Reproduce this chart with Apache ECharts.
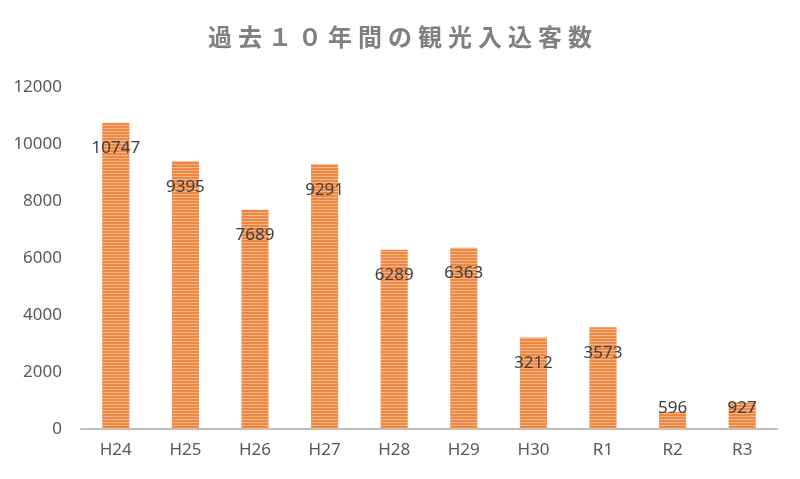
<!DOCTYPE html>
<html><head><meta charset="utf-8">
<script src="https://cdn.jsdelivr.net/npm/echarts@6/dist/echarts.min.js"></script>
<style>html,body{margin:0;padding:0;background:#fff}#c{width:800px;height:479px}</style>
</head><body><div id="c"></div>
<script>
var categories = ['H24','H25','H26','H27','H28','H29','H30','R1','R2','R3'];
var visitors = [10747, 9395, 7689, 9291, 6289, 6363, 3212, 3573, 596, 927];
var yTicks = [0, 2000, 4000, 6000, 8000, 10000, 12000];
var titleChars = ['過','去','１','０','年','間','の','観','光','入','込','客','数'];

var pc = document.createElement('canvas');
pc.width = 4; pc.height = 3;
var ctx = pc.getContext('2d');
ctx.fillStyle = '#EE8644'; ctx.fillRect(0,0,4,2);
ctx.fillStyle = '#F6B788'; ctx.fillRect(0,2,4,1);

var chart = echarts.init(document.getElementById('c'));
chart.setOption({
  animation: false,
  title: {
    text: titleChars.join('\u2005'), left: 'center', top: 20,
    textStyle: {fontFamily: 'Noto Sans CJK JP', fontSize: 24, fontWeight: 'bold', color: '#808080'}
  },
  grid: {left: 81, right: 23, top: 87, bottom: 50},
  xAxis: {
    type: 'category', data: categories,
    axisLine: {lineStyle: {color: '#BFBFBF', width: 2}},
    axisTick: {show: false},
    axisLabel: {fontFamily: 'Noto Sans', fontSize: 17, color: '#595959', margin: 13}
  },
  yAxis: {
    type: 'value', min: yTicks[0], max: yTicks[yTicks.length-1], interval: 2000,
    splitLine: {show: false}, axisLine: {show: false}, axisTick: {show: false},
    axisLabel: {fontFamily: 'Noto Sans', fontSize: 17, color: '#595959', margin: 19,
      formatter: function(v){ return String(v); }}
  },
  series: [{
    type: 'bar', barWidth: '39%',
    data: visitors.map(function(v){
      return {value: v, label: v < 1500 ? {position: 'insideBottom', distance: 12} : {position: 'insideTop', distance: 17}};
    }),
    itemStyle: {color: {image: pc, repeat: 'repeat'}},
    label: {show: true, fontFamily: 'Noto Sans', fontSize: 17, color: '#404040'}
  }]
});
</script></body></html>
